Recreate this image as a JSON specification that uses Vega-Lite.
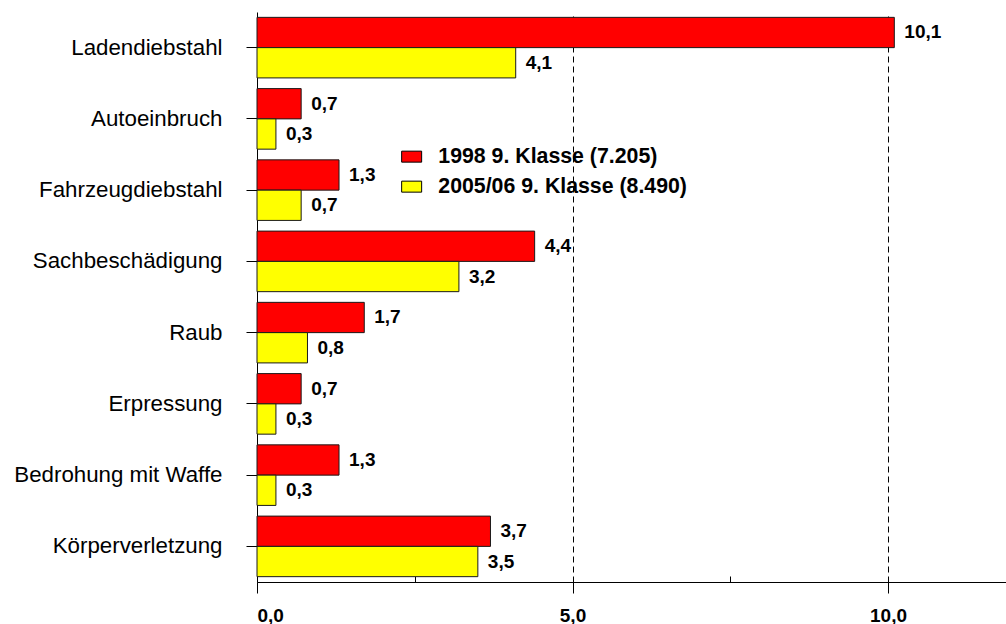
{
  "$schema": "https://vega.github.io/schema/vega-lite/v6.json",
  "width": 749,
  "height": 570,
  "autosize": {"type": "none"},
  "padding": {"left": 257, "top": 12, "right": 0, "bottom": 42},
  "background": "white",
  "config": {
    "view": {"stroke": null},
    "font": "Liberation Sans",
    "locale": {
      "number": {"decimal": ",", "thousands": ".", "grouping": [3], "currency": ["", " €"]}
    }
  },
  "data": {
    "values": [
      {"delikt": "Ladendiebstahl", "jahr": "1998 9. Klasse (7.205)", "wert": 10.1},
      {"delikt": "Ladendiebstahl", "jahr": "2005/06 9. Klasse (8.490)", "wert": 4.1},
      {"delikt": "Autoeinbruch", "jahr": "1998 9. Klasse (7.205)", "wert": 0.7},
      {"delikt": "Autoeinbruch", "jahr": "2005/06 9. Klasse (8.490)", "wert": 0.3},
      {"delikt": "Fahrzeugdiebstahl", "jahr": "1998 9. Klasse (7.205)", "wert": 1.3},
      {"delikt": "Fahrzeugdiebstahl", "jahr": "2005/06 9. Klasse (8.490)", "wert": 0.7},
      {"delikt": "Sachbeschädigung", "jahr": "1998 9. Klasse (7.205)", "wert": 4.4},
      {"delikt": "Sachbeschädigung", "jahr": "2005/06 9. Klasse (8.490)", "wert": 3.2},
      {"delikt": "Raub", "jahr": "1998 9. Klasse (7.205)", "wert": 1.7},
      {"delikt": "Raub", "jahr": "2005/06 9. Klasse (8.490)", "wert": 0.8},
      {"delikt": "Erpressung", "jahr": "1998 9. Klasse (7.205)", "wert": 0.7},
      {"delikt": "Erpressung", "jahr": "2005/06 9. Klasse (8.490)", "wert": 0.3},
      {"delikt": "Bedrohung mit Waffe", "jahr": "1998 9. Klasse (7.205)", "wert": 1.3},
      {"delikt": "Bedrohung mit Waffe", "jahr": "2005/06 9. Klasse (8.490)", "wert": 0.3},
      {"delikt": "Körperverletzung", "jahr": "1998 9. Klasse (7.205)", "wert": 3.7},
      {"delikt": "Körperverletzung", "jahr": "2005/06 9. Klasse (8.490)", "wert": 3.5}
    ]
  },
  "encoding": {
    "y": {
      "field": "delikt",
      "type": "nominal",
      "sort": ["Ladendiebstahl", "Autoeinbruch", "Fahrzeugdiebstahl", "Sachbeschädigung", "Raub", "Erpressung", "Bedrohung mit Waffe", "Körperverletzung"],
      "scale": {"paddingInner": 0.15, "paddingOuter": 0.075},
      "axis": {
        "title": null,
        "domainColor": "black",
        "tickColor": "black",
        "tickSize": 11,
        "labelPadding": 24,
        "labelFontSize": 22.3,
        "labelColor": "black",
        "labelLimit": 400,
        "grid": false
      }
    },
    "yOffset": {
      "field": "jahr",
      "sort": ["1998 9. Klasse (7.205)", "2005/06 9. Klasse (8.490)"],
      "scale": {"paddingInner": 0, "paddingOuter": 0}
    },
    "x": {
      "field": "wert",
      "type": "quantitative",
      "scale": {"domain": [0, 11.87], "nice": false, "zero": true}
    }
  },
  "layer": [
    {
      "mark": {"type": "bar", "stroke": "#1a1a1a", "strokeWidth": 1},
      "encoding": {
        "x": {
          "field": "wert",
          "type": "quantitative",
          "axis": {
            "title": null,
            "orient": "bottom",
            "values": [0, 5, 10],
            "format": ".1f",
            "domainColor": "black",
            "tickColor": "black",
            "tickSize": 11,
            "labelFontSize": 19,
            "labelFontWeight": "bold",
            "labelColor": "black",
            "labelPadding": 13,
            "grid": true,
            "gridColor": "black",
            "gridDash": [6, 4],
            "gridWidth": 1
          }
        },
        "color": {
          "field": "jahr",
          "type": "nominal",
          "sort": ["1998 9. Klasse (7.205)", "2005/06 9. Klasse (8.490)"],
          "scale": {"range": ["#ff0000", "#ffff00"]},
          "legend": {
            "title": null,
            "orient": "none",
            "legendX": 144,
            "legendY": 134,
            "padding": 0,
            "symbolType": "M-1,-0.55H1V0.55H-1Z",
            "symbolSize": 400,
            "symbolStrokeColor": "black",
            "symbolStrokeWidth": 1,
            "symbolOpacity": 1,
            "labelFontSize": 21.3,
            "labelFontWeight": "bold",
            "labelColor": "black",
            "labelOffset": 16,
            "rowPadding": 8,
            "labelLimit": 400
          }
        }
      }
    },
    {
      "mark": {"type": "text", "align": "left", "baseline": "middle", "dx": 10, "fontSize": 19, "fontWeight": "bold", "color": "black"},
      "encoding": {
        "x": {
          "field": "wert",
          "type": "quantitative",
          "axis": {
            "title": null,
            "orient": "top",
            "offset": -570,
            "values": [2.5, 7.5],
            "labels": false,
            "domain": false,
            "grid": false,
            "tickColor": "black",
            "tickSize": 6
          }
        },
        "text": {"field": "wert", "type": "quantitative", "format": ".1f"}
      }
    }
  ],
  "resolve": {"axis": {"x": "independent"}}
}
